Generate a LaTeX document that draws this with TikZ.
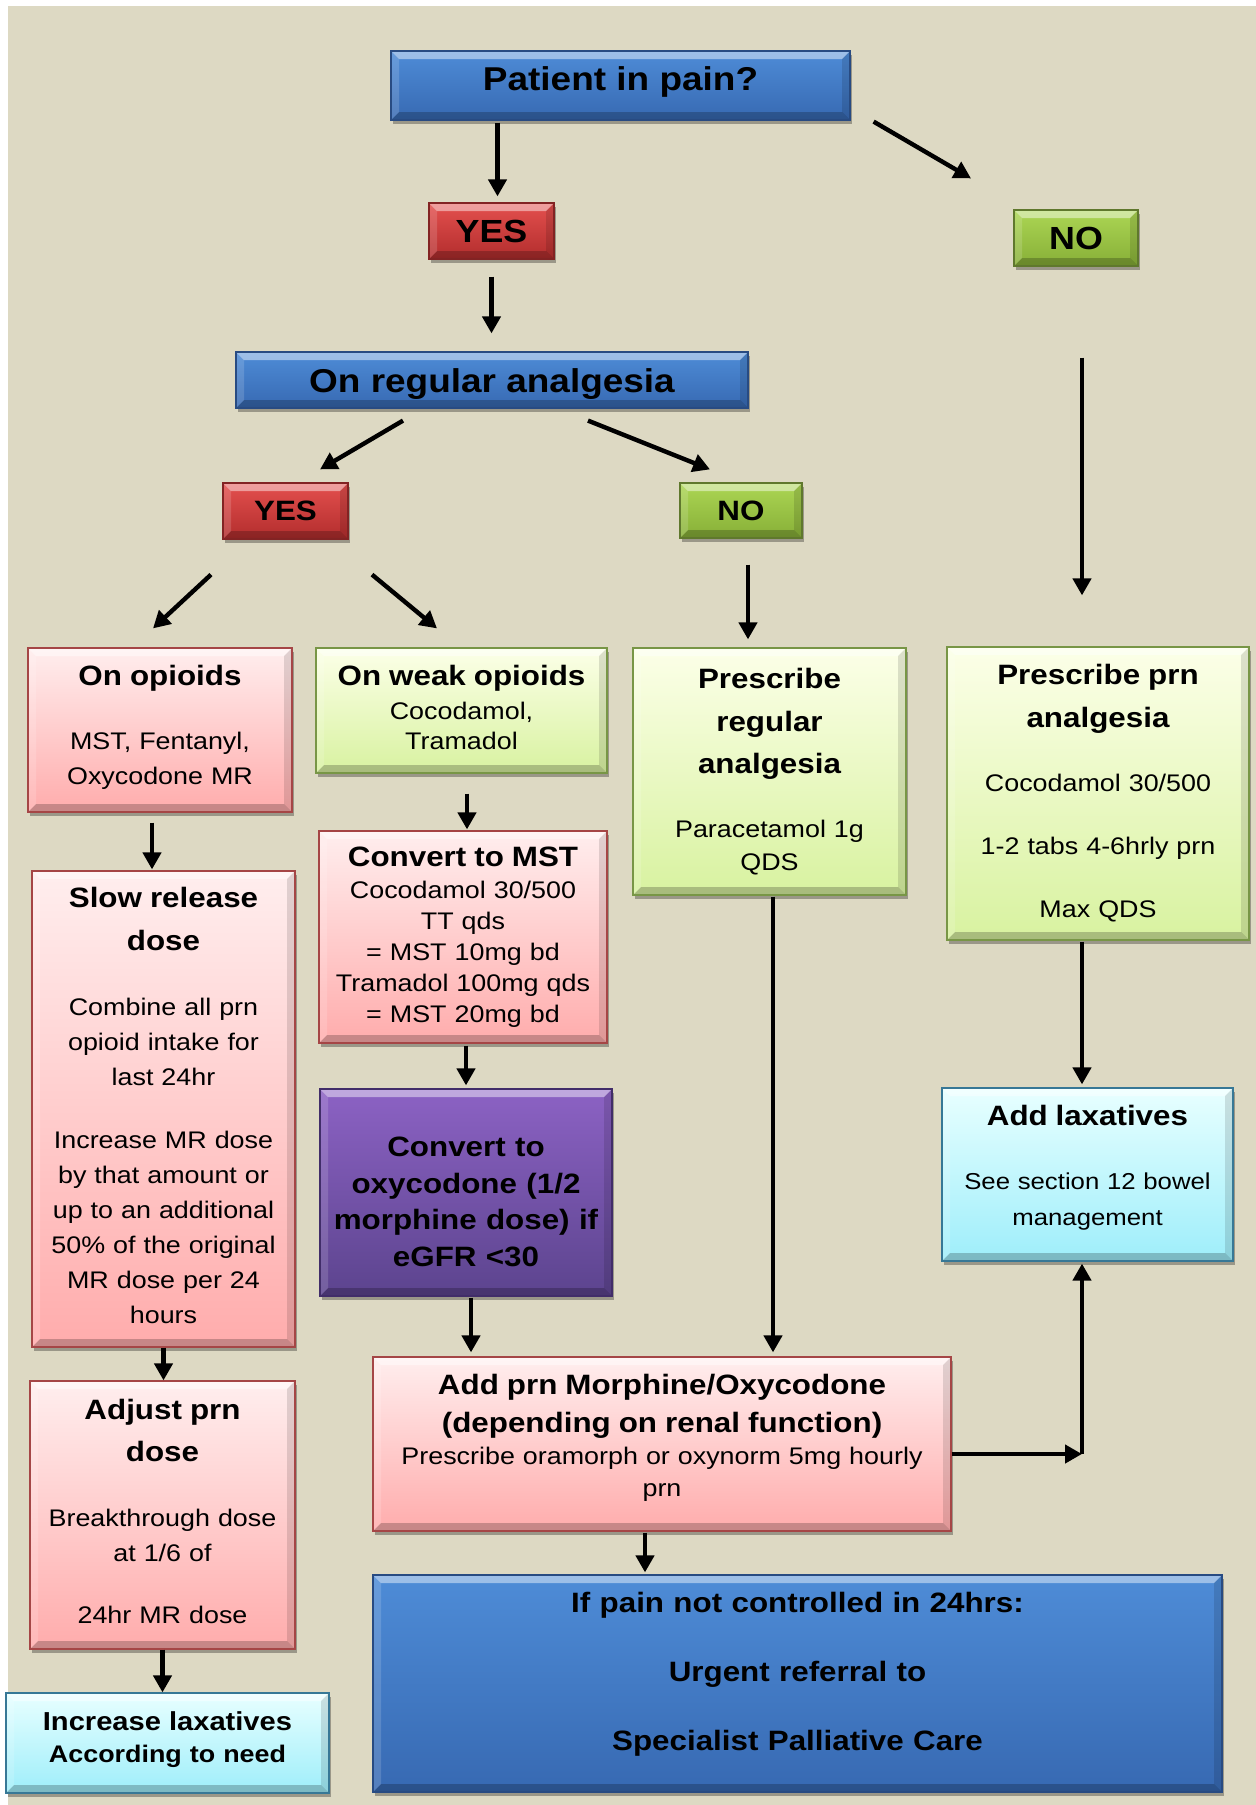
\documentclass[tikz,border=0pt]{standalone}
\usepackage{fontspec}
\setmainfont{Liberation Sans}[FakeStretch=1.12]
\usetikzlibrary{arrows.meta,shadows,calc}

\definecolor{paper}{RGB}{221,217,195}
\definecolor{blueT}{RGB}{78,140,215}
\definecolor{blueB}{RGB}{55,105,178}
\definecolor{blueD}{RGB}{40,75,130}
\definecolor{redT}{RGB}{228,80,78}
\definecolor{redB}{RGB}{178,45,45}
\definecolor{redD}{RGB}{130,35,35}
\definecolor{grnT}{RGB}{172,214,84}
\definecolor{grnB}{RGB}{135,175,55}
\definecolor{grnD}{RGB}{95,120,45}
\definecolor{pinkT}{RGB}{255,238,238}
\definecolor{pinkB}{RGB}{255,172,172}
\definecolor{pinkD}{RGB}{165,70,70}
\definecolor{limeT}{RGB}{252,255,232}
\definecolor{limeB}{RGB}{216,242,160}
\definecolor{limeD}{RGB}{120,150,70}
\definecolor{cyanT}{RGB}{232,255,255}
\definecolor{cyanB}{RGB}{158,238,250}
\definecolor{cyanD}{RGB}{55,120,150}
\definecolor{purT}{RGB}{140,98,196}
\definecolor{purB}{RGB}{92,68,142}
\definecolor{purD}{RGB}{65,45,105}

% bold heading inside a card
\newcommand\boxtitle[1]{{\bfseries\fontsize{28}{0}\selectfont #1}}
% invisible struts that lower the bottom / raise the top of a text block
\newcommand\downstrut[1]{\rule[-#1]{0pt}{#1}}
\newcommand\upstrut[1]{\rule{0pt}{#1}}

\tikzset{
  bevel/.style={path picture={
    \fill[white,opacity=.45] (path picture bounding box.north west) -- (path picture bounding box.north east)
      -- ([xshift=-#1,yshift=-#1]path picture bounding box.north east) -- ([xshift=#1,yshift=-#1]path picture bounding box.north west) -- cycle;
    \fill[black,opacity=.22] (path picture bounding box.south west) -- (path picture bounding box.south east)
      -- ([xshift=-#1,yshift=#1]path picture bounding box.south east) -- ([xshift=#1,yshift=#1]path picture bounding box.south west) -- cycle;
    \fill[black,opacity=.12] (path picture bounding box.north east) -- (path picture bounding box.south east)
      -- ([xshift=-#1,yshift=#1]path picture bounding box.south east) -- ([xshift=-#1,yshift=-#1]path picture bounding box.north east) -- cycle;
    \fill[white,opacity=.15] (path picture bounding box.north west) -- (path picture bounding box.south west)
      -- ([xshift=#1,yshift=#1]path picture bounding box.south west) -- ([xshift=#1,yshift=-#1]path picture bounding box.north west) -- cycle;
  }},
  place/.style args={#1,#2,#3,#4}{minimum width={#3-#1}, minimum height={#4-#2},
    at={({(#1+#3)/2},{(#2+#4)/2})}},
  card/.style={rectangle, draw, line width=1.2pt, inner sep=0pt, align=center, bevel=8pt,
    drop shadow={shadow xshift=2pt, shadow yshift=-4pt, opacity=.3, fill=black},
    font=\fontsize{24}{32}\selectfont},
  bluecard/.style={card, draw=blueD, top color=blueT, bottom color=blueB},
  redcard/.style={card, draw=redD, top color=redT, bottom color=redB},
  greencard/.style={card, draw=grnD, top color=grnT, bottom color=grnB},
  pinkcard/.style={card, draw=pinkD, top color=pinkT, bottom color=pinkB},
  limecard/.style={card, draw=limeD, top color=limeT, bottom color=limeB},
  cyancard/.style={card, draw=cyanD, top color=cyanT, bottom color=cyanB},
  purplecard/.style={card, draw=purD, top color=purT, bottom color=purB},
  arr/.style={line width=4.4pt, -{Triangle[length=17pt,width=18pt]}},
}

\begin{document}
\begin{tikzpicture}[x=1pt,y=-1pt]
\useasboundingbox (0,0) rectangle (1256,1805);
\fill[white] (0,0) rectangle (1256,1805);
\fill[paper] (8,6) rectangle (1256,1805);

% decision boxes
\node[bluecard, place={391,51,850,120}, font=\bfseries\fontsize{33}{40}\selectfont] (pain) {Patient in pain?\downstrut{14pt}};
\node[redcard, place={429,203,554,259}, font=\bfseries\fontsize{32}{40}\selectfont] (yes1) {YES};
\node[greencard, place={1014,210,1138,266}, font=\bfseries\fontsize{32}{40}\selectfont] (no1) {NO};
\node[bluecard, place={236,352,748,408}, font=\bfseries\fontsize{33}{40}\selectfont] (regular) {\upstrut{31pt}On regular analgesia};
\node[redcard, place={223,483,348,539}, font=\bfseries\fontsize{28}{34}\selectfont] (yes2) {YES};
\node[greencard, place={680,483,802,538}, font=\bfseries\fontsize{28}{34}\selectfont] (no2) {NO};

% treatment boxes
\node[pinkcard, place={28,648,292,812}, text width=254pt, font=\fontsize{24}{35}\selectfont] (opioids)
  {\boxtitle{On opioids}\\[29pt]MST, Fentanyl,\\Oxycodone MR\downstrut{11pt}};
\node[limecard, place={316,648,607,773}, text width=281pt, font=\fontsize{24}{30}\selectfont] (weak)
  {\boxtitle{On weak opioids}\\[4pt]Cocodamol,\\Tramadol\downstrut{7pt}};
\node[limecard, place={633,648,906,895}, text width=263pt, font=\fontsize{24}{33}\selectfont] (regpres)
  {\boxtitle{Prescribe}\\[9.5pt]\boxtitle{regular}\\[9.5pt]\boxtitle{analgesia}\\[30.5pt]Paracetamol 1g\\QDS};
\node[limecard, place={947,647,1249,940}, text width=292pt, font=\fontsize{24}{31.5}\selectfont] (prn)
  {\boxtitle{Prescribe prn}\\[11.5pt]\boxtitle{analgesia}\\[32.5pt]Cocodamol 30/500\\[31.5pt]1-2 tabs 4-6hrly prn\\[31.5pt]Max QDS};
\node[pinkcard, place={32,871,295,1347}, text width=253pt, font=\fontsize{24}{35}\selectfont] (slow)
  {\boxtitle{Slow release}\\[8pt]\boxtitle{dose}\\[30pt]Combine all prn\\opioid intake for\\last 24hr\\[28pt]Increase MR dose\\by that amount or\\up to an additional\\50\% of the original\\MR dose per 24\\hours\downstrut{7pt}};
\node[pinkcard, place={319,831,607,1043}, text width=278pt, font=\fontsize{24}{31}\selectfont] (mst)
  {\boxtitle{Convert to MST}\\[1pt]Cocodamol 30/500\\TT qds\\= MST 10mg bd\\Tramadol 100mg qds\\= MST 20mg bd};
\node[purplecard, place={320,1089,612,1296}, text width=282pt, font=\bfseries\fontsize{28}{36.7}\selectfont] (oxy)
  {\upstrut{38pt}Convert to\\oxycodone (1/2\\morphine dose) if\\eGFR <30};
\node[cyancard, place={942,1088,1233,1261}, text width=281pt, font=\fontsize{23}{36}\selectfont] (lax)
  {\boxtitle{Add laxatives}\\[28pt]See section 12 bowel\\management\downstrut{19pt}};
\node[pinkcard, place={30,1381,295,1649}, text width=255pt, font=\fontsize{24}{35}\selectfont] (adjust)
  {\boxtitle{Adjust prn}\\[7pt]\boxtitle{dose}\\[30pt]Breakthrough dose\\at 1/6 of\\[27pt]24hr MR dose\downstrut{7pt}};
\node[cyancard, place={6,1693,329,1793}, text width=313pt, font=\bfseries\fontsize{24}{32}\selectfont] (increase)
  {{\fontsize{26}{0}\selectfont Increase laxatives}\\According to need\downstrut{12pt}};
\node[pinkcard, place={373,1357,951,1531}, text width=568pt, font=\fontsize{24}{32}\selectfont] (addprn)
  {\boxtitle{Add prn Morphine/Oxycodone}\\[6pt]\boxtitle{(depending on renal function)}\\Prescribe oramorph or oxynorm 5mg hourly\\prn\downstrut{18pt}};
\node[bluecard, place={373,1575,1222,1792}, text width=839pt, font=\bfseries\fontsize{28}{34.5}\selectfont] (referral)
  {If pain not controlled in 24hrs:\\[34.5pt]Urgent referral to\\[34.5pt]Specialist Palliative Care\downstrut{24pt}};

% connectors
\draw[arr] ($(yes1.north |- pain.south)+(6,2)$) -- ($(yes1.north)+(6,-6)$);
\draw[arr] ($(pain.south east)+(23,1)$) -- ($(no1.north)+(-105,-31)$);
\draw[arr] ($(yes1.south)+(0,17)$) -- ($(yes1.south |- regular.north)+(0,-18)$);
\draw[arr] ($(regular.south)+(-89,12)$) -- ($(yes2.north)+(34.5,-13)$);
\draw[arr] ($(regular.south)+(96,12)$) -- ($(no2.north)+(-31,-13)$);
\draw[arr] ($(no1.south)+(6,91)$) -- ($(no1.south |- prn.north)+(6,-51)$);
\draw[arr] ($(yes2.south)+(-74.5,35)$) -- ($(opioids.north)+(-7,-19)$);
\draw[arr] ($(yes2.south)+(86.5,35)$) -- ($(weak.north)+(-24.5,-19)$);
\draw[arr] ($(no2.south)+(7,26)$) -- ($(no2.south |- regpres.north)+(7,-8)$);
\draw[arr] ($(opioids.south)+(-8,10)$) -- ($(opioids.south |- slow.north)+(-8,-1)$);
\draw[arr] ($(weak.south)+(5.5,20)$) -- ($(weak.south |- mst.north)+(5.5,-1)$);
\draw[arr] ($(mst.south)+(3,2)$) -- ($(mst.south |- oxy.north)+(3,-3)$);
\draw[arr] ($(oxy.south)+(5,1)$) -- ($(oxy.south |- addprn.north)+(5,-4)$);
\draw[arr] ($(regpres.south)+(3.5,1)$) -- ($(regpres.south |- addprn.north)+(3.5,-4)$);
\draw[arr] ($(prn.south)+(-16,1)$) -- ($(prn.south |- lax.north)+(-16,-3)$);
\coordinate (bend) at ($(prn.south |- addprn.east)+(-16,10)$);
\draw[arr] ($(addprn.east)+(0,10)$) -- (bend);
\draw[arr] (bend) -- ($(bend |- lax.south)+(0,2)$);
\draw[arr] (slow.south) -- (slow.south |- adjust.north);
\draw[arr] (adjust.south) -- (adjust.south |- increase.north);
\draw[arr] ($(addprn.south)+(-17,1)$) -- ($(addprn.south |- referral.north)+(-17,-2)$);
\end{tikzpicture}
\end{document}
